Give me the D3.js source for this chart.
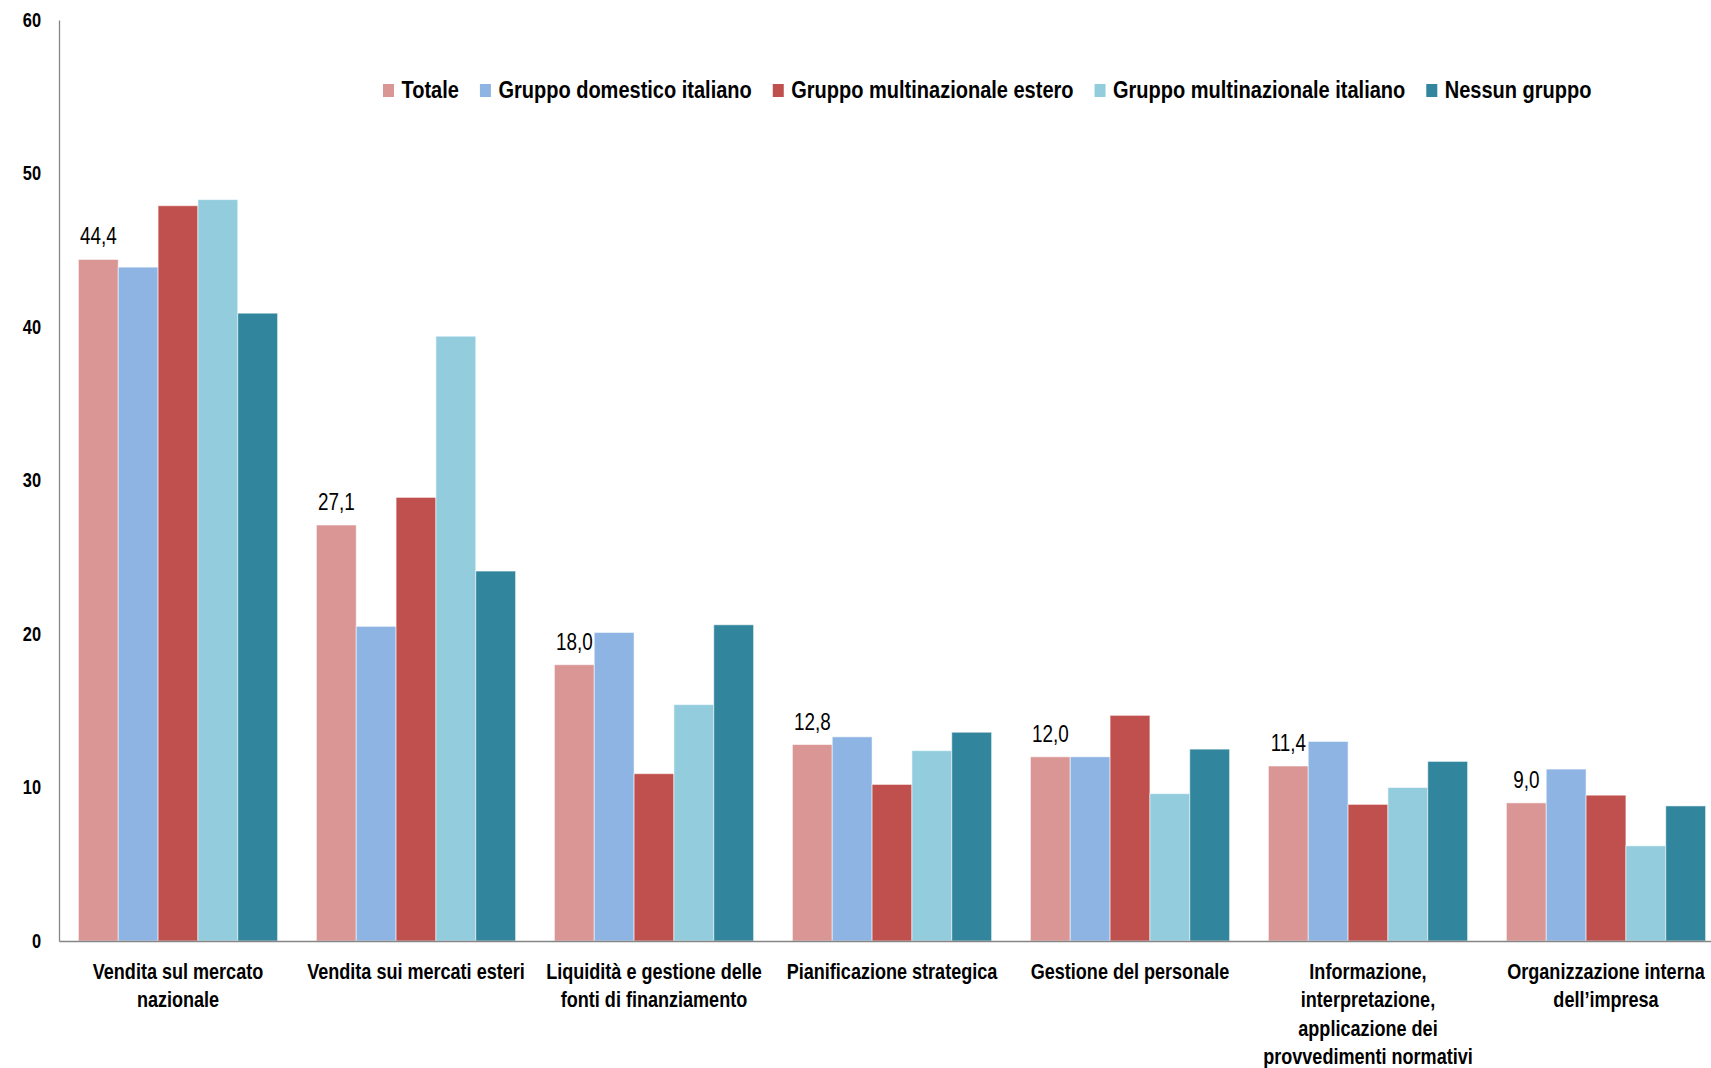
<!DOCTYPE html>
<meta charset="utf-8">
<head>
    <script src="https://d3js.org/d3.v7.min.js"></script>
    <style>
        body { margin: 0; background: #fff; }
        text { font-family: "Liberation Sans", Arial, sans-serif; }
    </style>
</head>
<body>
<div id="chart"></div>
<script>
    // categories (each label split in the lines used on the chart)
    const categories = [
        "Vendita sul mercato nazionale",
        "Vendita sui mercati esteri",
        "Liquidità e gestione delle fonti di finanziamento",
        "Pianificazione strategica",
        "Gestione del personale",
        "Informazione, interpretazione, applicazione dei provvedimenti normativi",
        "Organizzazione interna dell’impresa"
    ]
    const categoryLines = [
        ["Vendita sul mercato", "nazionale"],
        ["Vendita sui mercati esteri"],
        ["Liquidità e gestione delle", "fonti di finanziamento"],
        ["Pianificazione strategica"],
        ["Gestione del personale"],
        ["Informazione,", "interpretazione,", "applicazione dei", "provvedimenti normativi"],
        ["Organizzazione interna", "dell’impresa"]
    ]

    const series = ["Totale", "Gruppo domestico italiano", "Gruppo multinazionale estero", "Gruppo multinazionale italiano", "Nessun gruppo"]

    const totale        = [44.4, 27.1, 18.0, 12.8, 12.0, 11.4, 9.0]
    const domestico     = [43.9, 20.5, 20.1, 13.3, 12.0, 13.0, 11.2]
    const multiEstero   = [47.9, 28.9, 10.9, 10.2, 14.7, 8.9, 9.5]
    const multiItaliano = [48.3, 39.4, 15.4, 12.4, 9.6, 10.0, 6.2]
    const nessunGruppo  = [40.9, 24.1, 20.6, 13.6, 12.5, 11.7, 8.8]

    const yTicks = [0, 10, 20, 30, 40, 50, 60]

    const colors = ["#D99694", "#8EB4E3", "#C0504D", "#93CDDD", "#31859C"]

    const values = [totale, domestico, multiEstero, multiItaliano, nessunGruppo]
    const data = categories.map((c, i) => ({
        category: c,
        lines: categoryLines[i],
        values: series.map((s, j) => ({ key: s, value: values[j][i] }))
    }))

    const width = 1711
    const height = 1068

    // no Arial Narrow here: squeeze Liberation Sans to narrow width
    const narrow = 0.82
    function squeeze(sel) {
        sel.each(function() {
            const len = this.getComputedTextLength()
            d3.select(this)
                .attr("textLength", len * narrow)
                .attr("lengthAdjust", "spacingAndGlyphs")
        })
    }

    const svg = d3.select("#chart").append("svg")
        .attr("width", width)
        .attr("height", height)

    const axisX = 59
    const step = 238

    const x0 = d3.scaleBand()
        .domain(categories)
        .range([axisX, axisX + step * categories.length])
        .paddingInner(0.163)
        .paddingOuter(0.0815)

    const x1 = d3.scaleBand()
        .domain(series)
        .range([0, x0.bandwidth()])

    const y = d3.scaleLinear()
        .domain([0, 60])
        .range([941, 20])

    // bars
    const groups = svg.selectAll("g.group")
        .data(data)
        .join("g")
        .attr("class", "group")
        .attr("transform", d => `translate(${x0(d.category)},0)`)

    groups.selectAll("rect")
        .data(d => d.values)
        .join("rect")
        .attr("x", d => x1(d.key))
        .attr("y", d => y(d.value))
        .attr("width", x1.bandwidth())
        .attr("height", d => y(0) - y(d.value))
        .attr("fill", (d, i) => colors[i])
        .attr("stroke", "rgba(255,255,255,0.55)")
        .attr("stroke-width", 1)

    // data labels on Totale only
    groups.append("text")
        .attr("x", x1("Totale") + x1.bandwidth() / 2)
        .attr("y", d => y(d.values[0].value) - 15)
        .attr("text-anchor", "middle")
        .attr("font-size", 23)
        .attr("fill", "#000")
        .text(d => d3.format(".1f")(d.values[0].value).replace(".", ","))
        .call(squeeze)

    // y axis
    const leftAxis = d3.axisLeft(y)
        .tickValues(yTicks)
        .tickSize(0)
        .tickPadding(18)
    const gy = svg.append("g")
        .attr("transform", `translate(${axisX},0)`)
        .call(leftAxis)
    gy.select(".domain").attr("stroke", "#868686").attr("stroke-width", 1.3)
    gy.selectAll("text")
        .attr("font-family", null)
        .attr("font-size", 20)
        .attr("font-weight", "bold")
        .attr("fill", "#000")
        .call(squeeze)

    // x axis
    const bottomAxis = d3.axisBottom(x0).tickSize(0).tickFormat("")
    const gx = svg.append("g")
        .attr("transform", `translate(0,${y(0)})`)
        .call(bottomAxis)
    gx.select(".domain").attr("stroke", "#868686").attr("stroke-width", 1.3)

    // category labels, one text per line
    data.forEach(d => {
        const cx = x0(d.category) + x0.bandwidth() / 2
        svg.selectAll(null)
            .data(d.lines)
            .join("text")
            .attr("class", "cat")
            .attr("x", cx)
            .attr("y", (l, i) => 979 + i * 28.4)
            .attr("text-anchor", "middle")
            .attr("font-size", 22)
            .attr("font-weight", "bold")
            .attr("fill", "#000")
            .text(l => l)
            .call(squeeze)
    })

    // legend
    const legend = svg.append("g").attr("class", "legend")
    let lx = 383
    series.forEach((s, i) => {
        legend.append("rect")
            .attr("x", lx)
            .attr("y", 84)
            .attr("width", 11)
            .attr("height", 13)
            .attr("fill", colors[i])
        const t = legend.append("text")
            .attr("x", lx + 18.5)
            .attr("y", 98)
            .attr("font-size", 24.4)
            .attr("font-weight", "bold")
            .attr("fill", "#000")
            .text(s)
            .call(squeeze)
        lx = lx + 18.5 + t.node().getComputedTextLength() + 21
    })
</script>
</body>
